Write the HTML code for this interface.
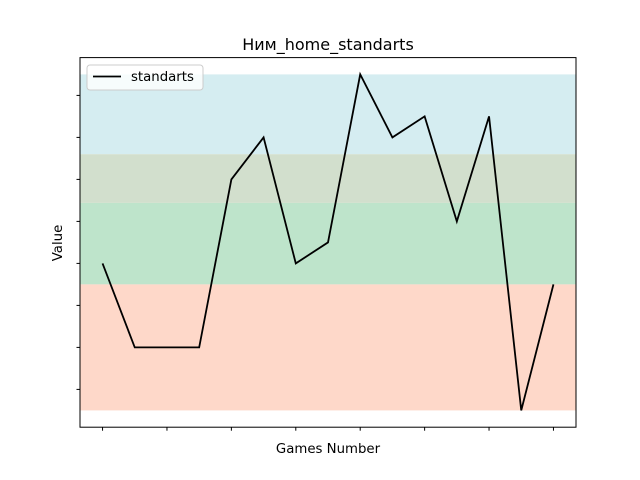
<!DOCTYPE html>
<html><head><meta charset="utf-8"><style>
html,body{margin:0;padding:0;background:#fff;}
svg{display:block;font-family:"DejaVu Sans","Liberation Sans",sans-serif;}
</style></head><body>
<svg id="chart" width="640" height="480" xmlns="http://www.w3.org/2000/svg">
<rect width="640" height="480" fill="#fff"/>
<g id="bands"></g>
<g id="ticks"></g>
<polyline id="line" fill="none" stroke="#000" stroke-width="1.8"/>
<rect x="80" y="57.6" width="496" height="369.6" fill="none" stroke="#000" stroke-width="1"/>
<text x="328" y="50" text-anchor="middle" font-size="16">Ним_home_standarts</text>
<text x="328" y="453" text-anchor="middle" font-size="13.3">Games Number</text>
<text x="62" y="243" text-anchor="middle" font-size="13.3" transform="rotate(-90 62 243)">Value</text>
<g>
<rect x="87" y="65" width="116" height="25" rx="3" fill="#fff" fill-opacity="0.8" stroke="#ccc"/>
<line x1="93" y1="76.5" x2="121" y2="76.5" stroke="#000" stroke-width="1.8"/>
<text x="131" y="81" font-size="13.3">standarts</text>
</g>
</svg>
<script>
const values = [0, -2, -2, -2, 2, 3, 0, 0.5, 4.5, 3, 3.5, 1, 3.5, -3.5, -0.5];
const bandTops = [4.5, 2.6, 1.44, -0.5];
const bandBottoms = [2.6, 1.44, -0.5, -3.5];
const bandColors = ["#d5edf1", "#d2dfcd", "#bee4cb", "#fed8c9"];
const yTicks = [-3, -2, -1, 0, 1, 2, 3, 4];
const xTicks = [0, 2, 4, 6, 8, 10, 12, 14];

const L=80,R=576,T=57.6,B=427.2;
const n=values.length;
const xMin=-0.7, xMax=(n-1)+0.7;
const vmin=Math.min(...values), vmax=Math.max(...values), pad=(vmax-vmin)*0.05;
const yMin=vmin-pad, yMax=vmax+pad;
const xs=i=>L+(i-xMin)/(xMax-xMin)*(R-L);
const ys=v=>B-(v-yMin)/(yMax-yMin)*(B-T);
const NS="http://www.w3.org/2000/svg";
const bg=document.getElementById('bands');
bandTops.forEach((t,i)=>{
  const r=document.createElementNS(NS,'rect');
  r.setAttribute('x',L);r.setAttribute('width',R-L);
  r.setAttribute('y',ys(t));r.setAttribute('height',ys(bandBottoms[i])-ys(t));
  r.setAttribute('fill',bandColors[i]);
  
  
  bg.appendChild(r);
});
const tg=document.getElementById('ticks');
yTicks.forEach(v=>{
  const l=document.createElementNS(NS,'line');
  l.setAttribute('x1',L-3.5);l.setAttribute('x2',L);l.setAttribute('y1',ys(v));l.setAttribute('y2',ys(v));
  l.setAttribute('stroke','#000');
  
  
  tg.appendChild(l);
});
xTicks.forEach(v=>{
  const l=document.createElementNS(NS,'line');
  l.setAttribute('x1',xs(v));l.setAttribute('x2',xs(v));l.setAttribute('y1',B);l.setAttribute('y2',B+3.5);
  l.setAttribute('stroke','#000');
  
  
  tg.appendChild(l);
});
document.getElementById('line').setAttribute('points',values.map((v,i)=>xs(i)+','+ys(v)).join(' '));
</script>
</body></html>
